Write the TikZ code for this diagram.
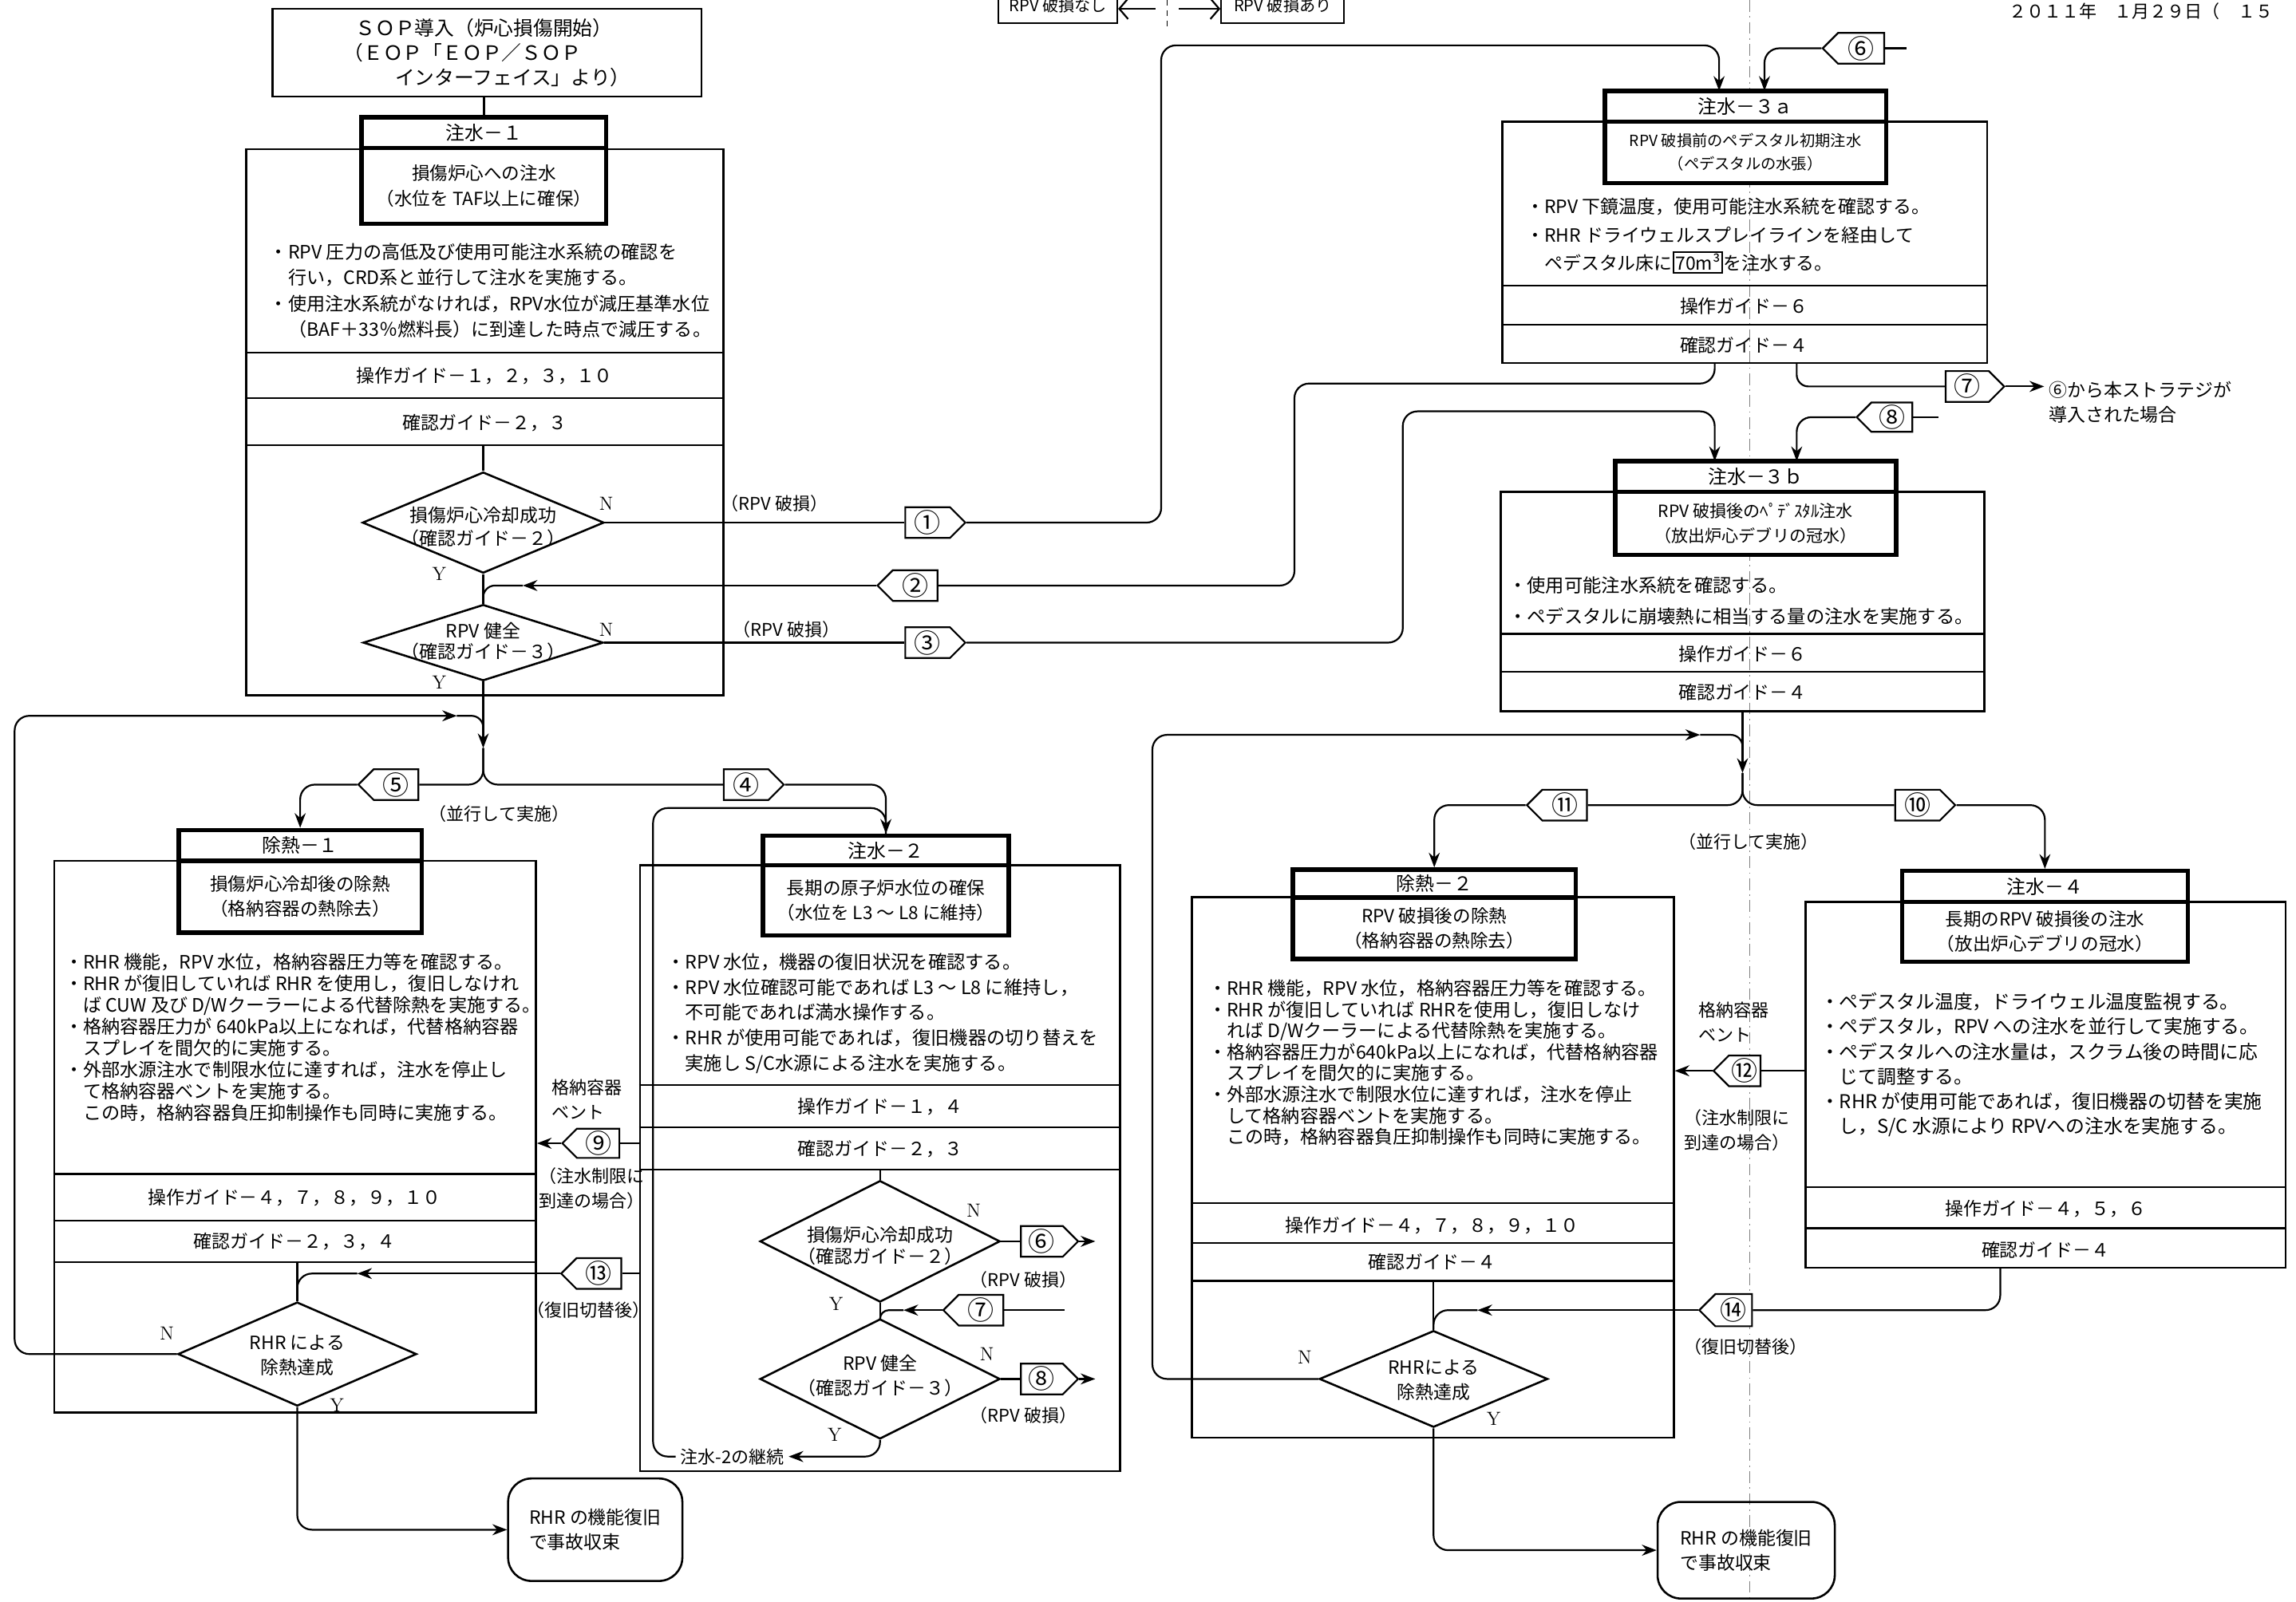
\documentclass[tikz,border=0pt]{standalone}
\usepackage{fontspec}
\newfontfamily\jp{Noto Sans CJK JP}
\usetikzlibrary{shapes.geometric,shapes.symbols,arrows.meta}
\begin{document}
\begin{tikzpicture}[x=1pt,y=-1pt,
 ln/.style={line width=1.2pt},
 obox/.style={draw, line width=1.4pt, inner sep=0pt},
 tbox/.style={draw, line width=3pt, inner sep=0pt, fill=white, font=\jp\fontsize{13}{15}\selectfont},
 sbox/.style={draw, line width=3pt, inner sep=0pt, fill=white, align=center, font=\jp\fontsize{12.3}{17}\selectfont},
 body/.style={anchor=north west, align=left, inner sep=0pt, font=\jp\fontsize{12}{17.5}\selectfont},
 guide/.style={inner sep=0pt, font=\jp\fontsize{12.5}{14}\selectfont},
 dia/.style={diamond, draw, line width=1.4pt, inner sep=0pt},
 dtext/.style={inner sep=0pt, align=center, font=\jp\fontsize{12.5}{16}\selectfont},
 tagB/.style={signal, draw, line width=1.2pt, inner sep=0pt, minimum height=21pt, minimum width=41pt, fill=white, font=\jp\fontsize{18}{18}\selectfont},
 tagE/.style={tagB, signal to=east},
 tagW/.style={tagB, signal to=west},
 lbl/.style={inner sep=0pt, align=left, font=\jp\fontsize{12}{16}\selectfont},
 yn/.style={inner sep=0pt, font=\fontsize{13}{13}\selectfont},
 arr/.style={ln, -{Stealth[length=10pt,width=7.5pt]}},
 rc/.style={rounded corners=10pt},
 endbox/.style={draw, line width=1.4pt, rounded corners=16pt, align=left, inner sep=0pt, font=\jp\fontsize{12.5}{17}\selectfont},
]
\useasboundingbox (0,0) rectangle (1568,1094);
\clip (0,0) rectangle (1568,1094);
\fill[white] (0,0) rectangle (1568,1094);

% dashed divider
\draw[line width=0.5pt, gray, dash pattern=on 8pt off 3pt on 1pt off 3pt] (1195,0) -- (1195,1094);

% legend & date
\node[draw, line width=1.2pt, minimum width=81pt, minimum height=24pt, inner sep=0pt, font=\jp\fontsize{11}{11}\selectfont] (L1) at (722.5,4) {RPV 破損なし};
\node[draw, line width=1.2pt, minimum width=84pt, minimum height=24pt, inner sep=0pt, font=\jp\fontsize{11}{11}\selectfont] (L2) at (876,4) {RPV 破損あり};
\coordinate (lm1) at (789,6);
\coordinate (lm2) at (805,6);
\draw[ln, -{Straight Barb[length=6pt,width=14pt]}] (lm1) -- (L1.east |- lm1);
\draw[ln, -{Straight Barb[length=6pt,width=14pt]}] (lm2) -- (L2.west |- lm2);
\draw[line width=0.8pt, dash pattern=on 4pt off 3pt] (797,0) -- (797,18);
\node[anchor=base west, inner sep=0pt, font=\jp\fontsize{12}{12}\selectfont] (date) at (1372,12) {２０１１年　１月２９日（　１５};

% ===== SOP =====
\node[draw, line width=1.4pt, minimum width=293pt, minimum height=60pt, align=left, inner sep=0pt, font=\jp\fontsize{13.5}{17}\selectfont] (sop) at (332.5,36)
 {\hspace*{0.6em}ＳＯＰ導入（炉心損傷開始）\\（ＥＯＰ「ＥＯＰ／ＳＯＰ\\\hspace*{2.6em}インターフェイス」より）};

% ===== 注水-1 =====
\node[obox, minimum width=326pt, minimum height=373pt] (o1) at (331,288.5) {};
\node[tbox, minimum width=167pt, minimum height=21pt] (t1) at (330.5,90.5) {注水－１};
\node[sbox, minimum width=167pt, minimum height=52pt] (s1) at (330.5,127) {損傷炉心への注水\\（水位を TAF以上に確保）};
\draw[ln] (sop.south -| t1.north) -- (t1.north);
\node[body, font=\jp\fontsize{12.6}{17.7}\selectfont] (b1) at (184,166) {・RPV 圧力の高低及び使用可能注水系統の確認を\\\phantom{・}行い，CRD系と並行して注水を実施する。\\・使用注水系統がなければ，RPV水位が減圧基準水位\\\phantom{・}（BAF＋33％燃料長）に到達した時点で減圧する。};
\draw[ln] (o1.west |- 0,241) -- (o1.east |- 0,241);
\draw[ln] (o1.west |- 0,272) -- (o1.east |- 0,272);
\draw[ln] (o1.west |- 0,304) -- (o1.east |- 0,304);
\node[guide] (g1a) at (331,257) {操作ガイド－１，２，３，１０};
\node[guide] (g1b) at (331,289) {確認ガイド－２，３};
\node[dia, minimum width=165pt, minimum height=69pt] (d1) at (330,357) {};
\node[dtext] (d1t) at (330,360) {損傷炉心冷却成功\\（確認ガイド－２）};
\node[dia, minimum width=164pt, minimum height=52pt] (d2) at (330,439) {};
\node[dtext, font=\jp\fontsize{12.5}{14}\selectfont] (d2t) at (330,438) {RPV 健全\\（確認ガイド－３）};
\draw[ln] (d1.north |- 0,304) -- (d1.north);
\draw[ln] (d1.south) -- (d2.north);
\node[yn] (n1) at (414,344) {N};
\node[yn] (y1) at (300,392) {Y};
\node[yn] (n2) at (414,430) {N};
\node[yn] (y2) at (300,466) {Y};
\node[tagE] (tg1) at (633.5,357) {①};
\node[tagW] (tg2) at (625,400) {②};
\node[tagE] (tg3) at (633.5,439) {③};
\node[lbl] (r1) at (529,344) {（RPV 破損）};
\node[lbl] (r3) at (537,430) {（RPV 破損）};
\draw[ln] (d1.east) -- (tg1.west);
\draw[ln] (d2.east) -- (tg3.west);
\coordinate (j2) at (357,400);
\draw[arr] (tg2.west) -- (j2);
\draw[ln, rounded corners=8pt] (j2) -| (d2.north);

% ===== branch below 注水-1 =====
\coordinate (m1) at (330,511);
\coordinate (j1) at (312,489);
\draw[arr] (d2.south) -- (m1);
\node[tagW] (tg5) at (270.5,536) {⑤};
\node[tagE] (tg4) at (509.5,536) {④};
\draw[ln, rc] (m1) |- (tg5.east);
\draw[ln, rc] (m1) |- (tg4.west);
\node[lbl] (par1) at (341,556) {（並行して実施）};

% ===== 除熱-1 =====
\node[obox, minimum width=329pt, minimum height=377pt] (o5) at (201.5,776.5) {};
\node[tbox, minimum width=166pt, minimum height=21pt] (t5) at (205,577.5) {除熱－１};
\node[sbox, minimum width=166pt, minimum height=49pt] (s5) at (205,612.5) {損傷炉心冷却後の除熱\\（格納容器の熱除去）};
\draw[arr, rc] (tg5.west) -| (t5.north);
\node[body, font=\jp\fontsize{12.6}{14.7}\selectfont] (b5) at (44,651) {・RHR 機能，RPV 水位，格納容器圧力等を確認する。\\・RHR が復旧していれば RHR を使用し，復旧しなけれ\\\phantom{・}ば CUW 及び D/Wクーラーによる代替除熱を実施する。\\・格納容器圧力が 640kPa以上になれば，代替格納容器\\\phantom{・}スプレイを間欠的に実施する。\\・外部水源注水で制限水位に達すれば，注水を停止し\\\phantom{・}て格納容器ベントを実施する。\\\phantom{・}この時，格納容器負圧抑制操作も同時に実施する。};
\draw[ln] (o5.west |- 0,802) -- (o5.east |- 0,802);
\draw[ln] (o5.west |- 0,834) -- (o5.east |- 0,834);
\draw[ln] (o5.west |- 0,862) -- (o5.east |- 0,862);
\node[guide] (g5a) at (201,818) {操作ガイド－４，７，８，９，１０};
\node[guide] (g5b) at (201,848) {確認ガイド－２，３，４};
\node[dia, minimum width=163pt, minimum height=71pt] (d5) at (203,925) {};
\node[dtext, font=\jp\fontsize{12.5}{17}\selectfont] (d5t) at (203,926) {RHR による\\除熱達成};
\draw[ln] (d5.north |- 0,862) -- (d5.north);
\node[yn] (n5) at (114,911) {N};
\node[yn] (y5) at (230,960) {Y};
\draw[arr, rc] (d5.west) -| (10,489) -- (j1);
\draw[ln, rounded corners=8pt] (j1) -| (330,503);
\node[tagW, minimum width=39pt, minimum height=20pt] (tg9) at (408.5,781) {⑨};
\node[lbl, font=\jp\fontsize{12}{17}\selectfont] (v9) at (401,751) {格納容器\\ベント};
\node[lbl, font=\jp\fontsize{12}{17}\selectfont] (c9) at (404,812) {（注水制限に\\到達の場合）};
\node[tagW] (tg13) at (409,870) {⑬};
\node[lbl] (k13) at (402,895) {（復旧切替後）};
\coordinate (j13) at (244,870);
\draw[arr] (tg13.west) -- (j13);
\draw[ln, rc] (j13) -| (d5.north);
\node[endbox, minimum width=119pt, minimum height=70pt] (e1) at (406.5,1045) {RHR の機能復旧\\で事故収束};
\draw[arr, rc] (d5.south) |- (e1.west);

% ===== 注水-2 =====
\node[obox, minimum width=328pt, minimum height=414pt] (o2) at (601,798) {};
\node[tbox, minimum width=168pt, minimum height=20pt] (t2) at (605,581) {注水－２};
\node[sbox, minimum width=168pt, minimum height=48pt] (s2) at (605,615) {長期の原子炉水位の確保\\（水位を L3 〜 L8 に維持）};
\draw[arr, rc] (tg4.east) -| (t2.north);
\draw[ln] (o2.west |- tg9.east) -- (tg9.east);
\draw[arr] (tg9.west) -- (o5.east |- tg9.west);
\draw[ln] (o2.west |- tg13.east) -- (tg13.east);
\node[body, font=\jp\fontsize{12.7}{17.3}\selectfont] (b2) at (455,651) {・RPV 水位，機器の復旧状況を確認する。\\・RPV 水位確認可能であれば L3 〜 L8 に維持し，\\\phantom{・}不可能であれば満水操作する。\\・RHR が使用可能であれば，復旧機器の切り替えを\\\phantom{・}実施し S/C水源による注水を実施する。};
\draw[ln] (o2.west |- 0,741) -- (o2.east |- 0,741);
\draw[ln] (o2.west |- 0,770) -- (o2.east |- 0,770);
\draw[ln] (o2.west |- 0,799) -- (o2.east |- 0,799);
\node[guide] (g2a) at (601,756) {操作ガイド－１，４};
\node[guide] (g2b) at (601,785) {確認ガイド－２，３};
\node[dia, minimum width=164pt, minimum height=83pt] (d2a) at (601,848) {};
\node[dtext, font=\jp\fontsize{12.5}{15}\selectfont] (d2at) at (601,851) {損傷炉心冷却成功\\（確認ガイド－２）};
\node[dia, minimum width=164pt, minimum height=82pt] (d2b) at (601,942) {};
\node[dtext, font=\jp\fontsize{12.5}{17}\selectfont] (d2bt) at (601,940) {RPV 健全\\（確認ガイド－３）};
\draw[ln] (d2a.north |- 0,799) -- (d2a.north);
\draw[ln] (d2a.south) -- (d2b.north);
\node[yn] (n2a) at (665,827) {N};
\node[yn] (y2a) at (571,891) {Y};
\node[yn] (n2b) at (674,925) {N};
\node[yn] (y2b) at (570,980) {Y};
\node[tagE, minimum width=39pt] (tg6a) at (711.5,848) {⑥};
\node[tagW] (tg7a) at (670,895) {⑦};
\node[tagE, minimum width=39pt] (tg8a) at (711.5,942) {⑧};
\coordinate (a6) at (748,848);
\coordinate (a8) at (748,942);
\coordinate (f7) at (727,895);
\coordinate (j7) at (617,895);
\draw[ln] (d2a.east) -- (tg6a.west);
\draw[arr] (tg6a.east) -- (a6);
\draw[ln] (d2b.east) -- (tg8a.west);
\draw[arr] (tg8a.east) -- (a8);
\draw[ln] (f7) -- (tg7a.east);
\draw[arr] (tg7a.west) -- (j7);
\draw[ln, rounded corners=6pt] (j7) -| (d2b.north);
\node[lbl] (r6) at (699,874) {（RPV 破損）};
\node[lbl] (r8) at (699,967) {（RPV 破損）};
\node[inner sep=3pt, font=\jp\fontsize{12}{12}\selectfont] (cont) at (500,995) {注水-2の継続};
\draw[arr, rc] (d2b.south) |- (cont.east);
\draw[ln, rc] (cont.west) -| (446,552) -| (t2.north);

% ===== 注水-3a =====
\node[obox, minimum width=331pt, minimum height=165pt] (o3a) at (1191.5,165.5) {};
\node[tbox, minimum width=192pt, minimum height=21pt] (t3a) at (1192,72.5) {注水－３ａ};
\node[sbox, minimum width=192pt, minimum height=42pt, font=\jp\fontsize{10.5}{16}\selectfont] (s3a) at (1192,104) {RPV 破損前のペデスタル初期注水\\（ペデスタルの水張）};
\node[body, font=\jp\fontsize{12.5}{19.5}\selectfont] (b3a) at (1042,135) {・RPV 下鏡温度，使用可能注水系統を確認する。\\・RHR ドライウェルスプレイラインを経由して\\\phantom{・}ペデスタル床に{\setlength\fboxsep{1pt}\setlength\fboxrule{1pt}\fbox{70m³}}を注水する。};
\draw[ln] (o3a.west |- 0,195) -- (o3a.east |- 0,195);
\draw[ln] (o3a.west |- 0,222) -- (o3a.east |- 0,222);
\node[guide] (g3a1) at (1191,209) {操作ガイド－６};
\node[guide] (g3a2) at (1191,236) {確認ガイド－４};
\coordinate (a3a1) at (1174,62);
\coordinate (a3a2) at (1205,62);
\draw[arr, rc] (tg1.east) -| (793,31) -| (a3a1);
\node[tagW, minimum width=42pt] (tg6b) at (1271,33) {⑥};
\coordinate (f6) at (1302,33);
\draw[ln] (tg6b.east) -- (f6);
\draw[arr, rc] (tg6b.west) -| (a3a2);
\coordinate (b3a1) at (1171,248);
\coordinate (b3a2) at (1227,248);
\draw[ln, rc] (b3a1) |- (884,262) |- (tg2.east);
\node[tagE, minimum width=40pt] (tg7b) at (1343.5,264) {⑦};
\draw[ln, rounded corners=8pt] (b3a2) |- (tg7b.west);
\coordinate (a7) at (1396,264);
\draw[arr] (tg7b.east) -- (a7);
\node[lbl, anchor=west, font=\jp\fontsize{12.5}{17}\selectfont] (x7) at (1399,275) {⑥から本ストラテジが\\導入された場合};

% ===== 注水-3b =====
\node[obox, minimum width=330pt, minimum height=150pt] (o3b) at (1190,411) {};
\node[tbox, minimum width=192pt, minimum height=21pt] (t3b) at (1199,325.5) {注水－３ｂ};
\node[sbox, minimum width=192pt, minimum height=43pt, font=\jp\fontsize{11.5}{17}\selectfont] (s3b) at (1199,357.5) {RPV 破損後のﾍﾟﾃﾞｽﾀﾙ注水\\（放出炉心デブリの冠水）};
\node[body, font=\jp\fontsize{12.7}{21}\selectfont] (b3b) at (1030,394) {・使用可能注水系統を確認する。\\・ペデスタルに崩壊熱に相当する量の注水を実施する。};
\draw[ln] (o3b.west |- 0,433) -- (o3b.east |- 0,433);
\draw[ln] (o3b.west |- 0,459) -- (o3b.east |- 0,459);
\node[guide] (g3b1) at (1190,447) {操作ガイド－６};
\node[guide] (g3b2) at (1190,473) {確認ガイド－４};
\coordinate (a3b1) at (1171,315);
\coordinate (a3b2) at (1227,315);
\draw[arr, rc] (tg3.east) -| (958,281) -| (a3b1);
\node[tagW, minimum width=38pt, minimum height=20pt] (tg8b) at (1292,285) {⑧};
\coordinate (f8) at (1324,285);
\draw[ln] (tg8b.east) -- (f8);
\draw[arr, rc] (tg8b.west) -| (a3b2);

% ===== branch below 注水-3b =====
\coordinate (m2) at (1190,528);
\coordinate (j10) at (1161,502);
\draw[arr] (o3b.south) -- (m2);
\node[tagW] (tg11) at (1068.5,550) {⑪};
\node[tagE] (tg10) at (1309.5,550) {⑩};
\draw[ln, rc] (m2) |- (tg11.east);
\draw[ln, rc] (m2) |- (tg10.west);
\node[lbl] (par2) at (1194,575) {（並行して実施）};

% ===== 除熱-2 =====
\node[obox, minimum width=329pt, minimum height=369pt] (o10) at (978.5,797.5) {};
\node[tbox, minimum width=193pt, minimum height=19pt] (t10) at (979.5,603.5) {除熱－２};
\node[sbox, minimum width=193pt, minimum height=42pt] (s10) at (979.5,634) {RPV 破損後の除熱\\（格納容器の熱除去）};
\draw[arr, rc] (tg11.west) -| (t10.north);
\node[body, font=\jp\fontsize{12.6}{14.5}\selectfont] (b10) at (825,669) {・RHR 機能，RPV 水位，格納容器圧力等を確認する。\\・RHR が復旧していれば RHRを使用し，復旧しなけ\\\phantom{・}れば D/Wクーラーによる代替除熱を実施する。\\・格納容器圧力が640kPa以上になれば，代替格納容器\\\phantom{・}スプレイを間欠的に実施する。\\・外部水源注水で制限水位に達すれば，注水を停止\\\phantom{・}して格納容器ベントを実施する。\\\phantom{・}この時，格納容器負圧抑制操作も同時に実施する。};
\draw[ln] (o10.west |- 0,822) -- (o10.east |- 0,822);
\draw[ln] (o10.west |- 0,849) -- (o10.east |- 0,849);
\draw[ln] (o10.west |- 0,875) -- (o10.east |- 0,875);
\node[guide] (g10a) at (978,837) {操作ガイド－４，７，８，９，１０};
\node[guide] (g10b) at (978,862) {確認ガイド－４};
\node[dia, minimum width=156pt, minimum height=66pt] (d10) at (979,942) {};
\node[dtext, font=\jp\fontsize{12.5}{17}\selectfont] (d10t) at (979,943) {RHRによる\\除熱達成};
\draw[ln] (d10.north |- 0,875) -- (d10.north);
\node[yn] (n10) at (891,927) {N};
\node[yn] (y10) at (1020,969) {Y};
\draw[arr, rc] (d10.west) -| (787,502) -- (j10);
\draw[ln, rounded corners=8pt] (j10) -| (1190,516);
\node[endbox, minimum width=121pt, minimum height=66pt] (e2) at (1192.5,1059) {RHR の機能復旧\\で事故収束};
\draw[arr, rc] (d10.south) |- (e2.west);

% ===== 注水-4 =====
\node[obox, minimum width=328pt, minimum height=250pt] (o4) at (1397,741) {};
\node[tbox, minimum width=195pt, minimum height=21pt] (t4) at (1396.5,605.5) {注水－４};
\node[sbox, minimum width=195pt, minimum height=41pt] (s4) at (1396.5,636.5) {長期のRPV 破損後の注水\\（放出炉心デブリの冠水）};
\draw[arr, rc] (tg10.east) -| (t4.north);
\node[body, font=\jp\fontsize{13}{17}\selectfont] (b4) at (1243,678) {・ペデスタル温度，ドライウェル温度監視する。\\・ペデスタル，RPV への注水を並行して実施する。\\・ペデスタルへの注水量は，スクラム後の時間に応\\\phantom{・}じて調整する。\\・RHR が使用可能であれば，復旧機器の切替を実施\\\phantom{・}し，S/C 水源により RPVへの注水を実施する。};
\draw[ln] (o4.west |- 0,811) -- (o4.east |- 0,811);
\draw[ln] (o4.west |- 0,839) -- (o4.east |- 0,839);
\node[guide] (g4a) at (1397,826) {操作ガイド－４，５，６};
\node[guide] (g4b) at (1397,854) {確認ガイド－４};

% ⑫ and ⑭
\node[tagW, minimum width=32pt] (tg12) at (1191.5,731.5) {⑫};
\draw[arr] (tg12.west) -- (o10.east |- tg12.west);
\draw[ln] (tg12.east) -- (o4.west |- tg12.east);
\node[lbl, font=\jp\fontsize{12}{17}\selectfont] (v12) at (1184,698) {格納容器\\ベント};
\node[lbl, font=\jp\fontsize{12}{17}\selectfont] (c12) at (1186,772) {（注水制限に\\到達の場合）};
\node[tagW, minimum width=36pt, minimum height=22pt] (tg14) at (1184,895) {⑭};
\coordinate (j14) at (1009,895);
\coordinate (b4b) at (1366,866);
\draw[arr] (tg14.west) -- (j14);
\draw[ln, rc] (j14) -| (d10.north);
\draw[ln, rc] (b4b) |- (tg14.east);
\node[lbl] (k14) at (1192,920) {（復旧切替後）};
\end{tikzpicture}
\end{document}
